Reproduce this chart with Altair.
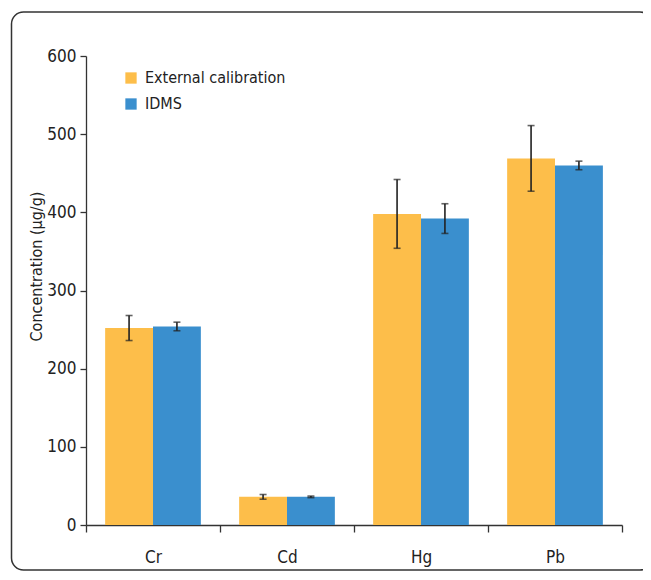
import altair as alt
import pandas as pd

# ---- data ----
elements = ["Cr", "Cd", "Hg", "Pb"]
methods = ["External calibration", "IDMS"]
ext_values = [252, 36, 398, 469]
ext_errors = [16, 3, 44, 42]
idms_values = [254, 36, 392, 460]
idms_errors = [5.5, 1, 19, 5.5]
y_ticks = [0, 100, 200, 300, 400, 500, 600]
colors = ["#FDBE4A", "#3A8FCE"]

rows = []
for el, v, e in zip(elements, ext_values, ext_errors):
    rows.append({"element": el, "method": methods[0], "value": v, "lo": v - e, "hi": v + e})
for el, v, e in zip(elements, idms_values, idms_errors):
    rows.append({"element": el, "method": methods[1], "value": v, "lo": v - e, "hi": v + e})
df = pd.DataFrame(rows)

FONT = "DejaVu Sans Condensed, Liberation Sans Narrow, Roboto Condensed, sans-serif"
W, H = 536, 469

x_enc = alt.X(
    "element:N",
    sort=elements,
    scale=alt.Scale(paddingInner=0, paddingOuter=0),
    axis=alt.Axis(
        title=None, labelAngle=0, tickBand="extent", tickSize=7,
        labelPadding=17, labelFontSize=17, labelColor="#222",
        domainColor="#333", tickColor="#333", domainWidth=1.3, tickWidth=1.3,
    ),
)
xoff_enc = alt.XOffset("method:N", sort=methods, scale=alt.Scale(paddingInner=0, paddingOuter=0.4))

y_scale = alt.Scale(domain=[0, 600], nice=False)

bars = alt.Chart(df).mark_bar().encode(
    x=x_enc,
    xOffset=xoff_enc,
    y=alt.Y(
        "value:Q",
        scale=y_scale,
        axis=alt.Axis(
            title="Concentration (μg/g)", values=y_ticks, grid=False, tickSize=6,
            labelPadding=4, labelFontSize=17, labelColor="#222",
            titleFontSize=16, titleFontWeight="normal", titleColor="#222",
            titleX=-50, titleY=210, titleAngle=270, titleAlign="center", titleBaseline="middle",
            domainColor="#333", tickColor="#333", domainWidth=1.3, tickWidth=1.3,
        ),
    ),
    color=alt.Color(
        "method:N",
        sort=methods,
        scale=alt.Scale(domain=methods, range=colors),
        legend=alt.Legend(
            title=None, orient="none", legendX=37, legendY=14,
            symbolType="square", symbolSize=128, symbolStrokeWidth=0,
            labelFontSize=16, labelColor="#222", labelOffset=6, rowPadding=10,
        ),
    ),
)

err = alt.Chart(df).mark_rule(color="#222", strokeWidth=1.6).encode(
    x=alt.X("element:N", sort=elements),
    xOffset=alt.XOffset("method:N", sort=methods),
    y=alt.Y("lo:Q", scale=y_scale),
    y2="hi:Q",
)
cap_lo = alt.Chart(df).mark_tick(color="#222", size=7, thickness=1.6).encode(
    x=alt.X("element:N", sort=elements),
    xOffset=alt.XOffset("method:N", sort=methods),
    y=alt.Y("lo:Q", scale=y_scale),
)
cap_hi = alt.Chart(df).mark_tick(color="#222", size=7, thickness=1.6).encode(
    x=alt.X("element:N", sort=elements),
    xOffset=alt.XOffset("method:N", sort=methods),
    y=alt.Y("hi:Q", scale=y_scale),
)

frame = alt.Chart(pd.DataFrame({"k": [0]})).mark_rect(
    filled=False, stroke="#333", strokeWidth=1.5, cornerRadius=12
).encode(
    x=alt.value(-74.5), x2=alt.value(W + 30),
    y=alt.value(-44), y2=alt.value(H + 45),
)

chart = alt.layer(frame, bars, err, cap_lo, cap_hi).properties(
    width=W, height=H,
    autosize=alt.AutoSizeParams(type="none"),
    padding={"left": 78, "top": 48, "right": 21, "bottom": 47},
).configure(
    font=FONT,
    background="white",
).configure_view(stroke=None)

chart.save("out.html", embed_options={"renderer": "svg", "actions": False})
